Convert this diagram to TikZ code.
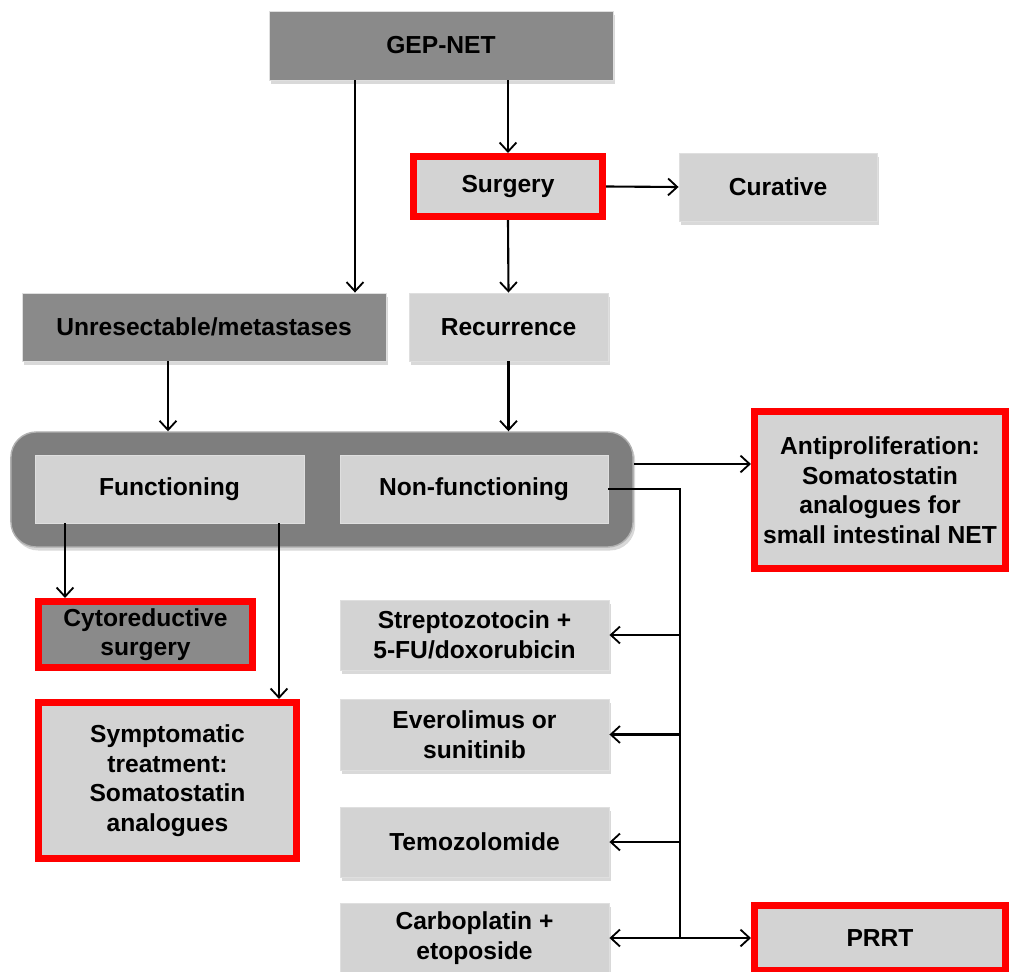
\documentclass[tikz,border=0pt]{standalone}
\usepackage{fontspec}
\setmainfont{Liberation Sans}
\usetikzlibrary{arrows.meta, shadows}

\definecolor{boxdark}{HTML}{8A8A8A}
\definecolor{boxlight}{HTML}{D3D3D3}
\definecolor{framegray}{HTML}{7E7E7E}

\tikzset{
    box/.style={rectangle, fill=boxlight, draw=gray!25, line width=0.6pt,
        align=center, inner sep=0pt,
        font=\fontsize{17.5}{21}\selectfont\bfseries,
        drop shadow={shadow xshift=1.5pt, shadow yshift=-2.5pt, opacity=0.3}},
    darkfill/.style={box, fill=boxdark},
    redframe/.style={box, draw=red, line width=5pt},
    arr/.style={-{Straight Barb[length=6.5pt, width=12pt, line width=1.3pt]}, line width=1.5pt}
}

\begin{document}
\begin{tikzpicture}[x=0.025cm, y=-0.025cm]
    \useasboundingbox (0,0) rectangle (1009,972);

    % The grey frame round the two types
    \node[fill=framegray, draw=gray!60, line width=1pt, rounded corners=18pt,
        minimum width=15.55cm, minimum height=2.875cm,
        drop shadow={shadow xshift=1.5pt, shadow yshift=-2.5pt, opacity=0.3}]
        (frame) at (322,489.5) {};

    % Top of the tree
    \node[darkfill, minimum width=8.6cm, minimum height=1.725cm] (gep) at (441,45.5) {GEP-NET};
    \node[redframe, minimum width=4.725cm, minimum height=1.5cm] (surg) at (508,186.5) {Surgery};
    \node[box, minimum width=4.95cm, minimum height=1.7cm] (cur) at (778,187) {Curative};
    \node[darkfill, minimum width=9.1cm, minimum height=1.7cm] (unres) at (204,327) {Unresectable/metastases};
    \node[box, minimum width=4.975cm, minimum height=1.7cm] (rec) at (508.5,327) {Recurrence};

    % Functioning or not
    \node[box, minimum width=6.725cm, minimum height=1.7cm] (func) at (169.5,489) {Functioning};
    \node[box, minimum width=6.7cm, minimum height=1.7cm] (nonf) at (474,489) {Non-functioning};
    \node[redframe, minimum width=6.275cm, minimum height=3.925cm] (anti) at (880,490)
        {Antiproliferation:\\ Somatostatin\\ analogues for\\ small intestinal NET};

    % Left branch
    \node[redframe, fill=boxdark, minimum width=5.35cm, minimum height=1.65cm] (cyto) at (145.5,634.5)
        {Cytoreductive\\ surgery};
    \node[redframe, minimum width=6.45cm, minimum height=3.9cm] (symp) at (167.5,780.5)
        {Symptomatic\\ treatment:\\ Somatostatin\\ analogues};

    % Treatments on the right
    \node[box, minimum width=6.725cm, minimum height=1.75cm] (strep) at (474.5,635)
        {Streptozotocin +\\ 5-FU/doxorubicin};
    \node[box, minimum width=6.725cm, minimum height=1.775cm] (evero) at (474.5,734.5)
        {Everolimus or\\ sunitinib};
    \node[box, minimum width=6.725cm, minimum height=1.75cm] (temo) at (474.5,842) {Temozolomide};
    \node[box, minimum width=6.725cm, minimum height=1.75cm] (carbo) at (474.5,938)
        {Carboplatin +\\ etoposide};
    \node[redframe, minimum width=6.275cm, minimum height=1.625cm] (prrt) at (880,938) {PRRT};

    % Connectors
    \draw[arr] (gep.south -| 355,0) -- (unres.north -| 355,0);
    \draw[arr] (gep.south -| surg) -- (surg.north);
    \draw[arr] (surg.east) -- (cur.west);
    \draw[arr] (surg.south) -- (rec.north);
    \draw[arr] (unres.south -| 168,0) -- (frame.north -| 168,0);
    \draw[arr] (rec.south) -- (frame.north -| rec);
    \draw[arr] (frame.east |- 0,464) -- (anti.west |- 0,464);
    \draw[arr] (func.south -| 65,0) -- (cyto.north -| 65,0);
    \draw[arr] (func.south -| 279,0) -- (symp.north -| 279,0);

    \coordinate (bus) at (680,489);
    \draw[line width=1.5pt] (nonf.east) -- (bus) -- (bus |- carbo);
    \foreach \t in {strep, evero, temo, carbo}
        \draw[arr] (bus |- \t) -- (\t.east);
    \draw[arr] (bus |- prrt) -- (prrt.west);
\end{tikzpicture}
\end{document}
